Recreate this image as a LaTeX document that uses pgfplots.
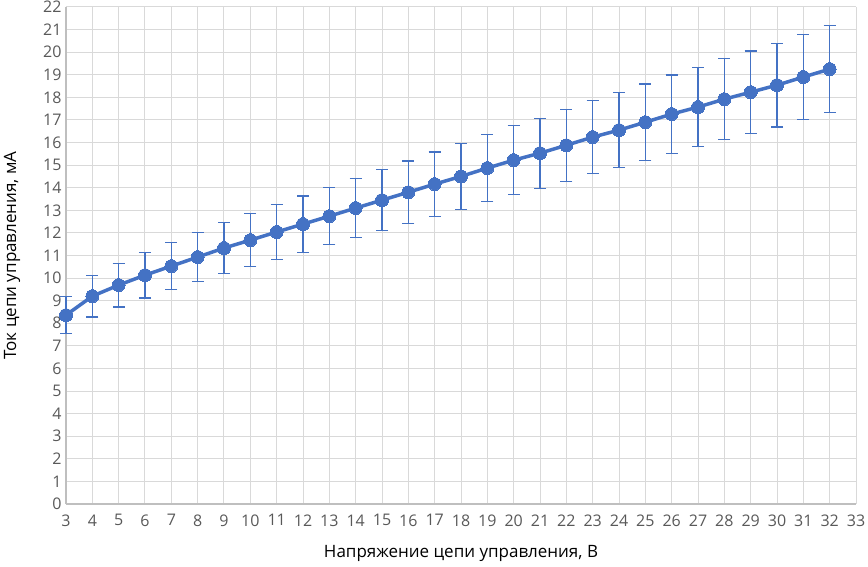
\documentclass[border=0pt]{standalone}
\usepackage{fontspec}
\setmainfont{Open Sans}
\usepackage{pgfplots}
\pgfplotsset{compat=1.18}
\definecolor{ser}{HTML}{4472C4}
\definecolor{tick}{HTML}{595959}
\definecolor{grd}{HTML}{D9D9D9}
\definecolor{axl}{HTML}{BFBFBF}
\begin{document}
\begin{tikzpicture}
\begin{axis}[
  scale only axis,
  width=790pt, height=497pt,
  xmin=3, xmax=33, ymin=0, ymax=22,
  xtick={3,...,33}, ytick={0,...,22},
  grid=major,
  major grid style={grd, line width=1pt},
  axis line style={axl, line width=1.2pt},
  axis lines*=left,
  major tick length=0pt,
  tick label style={font=\fontsize{16}{18}\selectfont, text=tick},
  /pgf/number format/assume math mode=true,
  xticklabel style={yshift=-7pt},
  yticklabel style={xshift=-1pt},
  label style={font=\fontsize{17}{19}\selectfont},
  xlabel={Напряжение цепи управления, В},
  ylabel={Ток цепи управления, мА},
  xlabel style={at={(axis description cs:0.5,-0.0986)}, anchor=center},
  ylabel style={at={(axis description cs:-0.0684,0.5)}, anchor=center},
  clip=false,
]
\addplot[
  color=ser, line width=3.5pt,
  mark=*, mark size=6.5pt, mark options={fill=ser, draw=ser, line width=0pt},
  error bars/.cd, y dir=both, y explicit,
  error bar style={ser, line width=1.2pt},
  error mark options={rotate=90, mark size=6pt, ser, line width=1.2pt},
] table[x=x, y=y, y error=e] {
x y e
3 8.36 0.82
4 9.20 0.92
5 9.69 0.97
6 10.13 1.01
7 10.53 1.05
8 10.93 1.09
9 11.33 1.13
10 11.68 1.17
11 12.04 1.20
12 12.39 1.24
13 12.74 1.27
14 13.10 1.31
15 13.45 1.35
16 13.80 1.38
17 14.16 1.42
18 14.50 1.45
19 14.87 1.49
20 15.22 1.52
21 15.53 1.55
22 15.88 1.59
23 16.24 1.62
24 16.55 1.66
25 16.90 1.69
26 17.26 1.73
27 17.57 1.76
28 17.92 1.79
29 18.23 1.82
30 18.54 1.85
31 18.90 1.89
32 19.25 1.93
};
\end{axis}
\pgfresetboundingbox
\path (-66pt,-63pt) rectangle (802pt,504pt);
\end{tikzpicture}
\end{document}
